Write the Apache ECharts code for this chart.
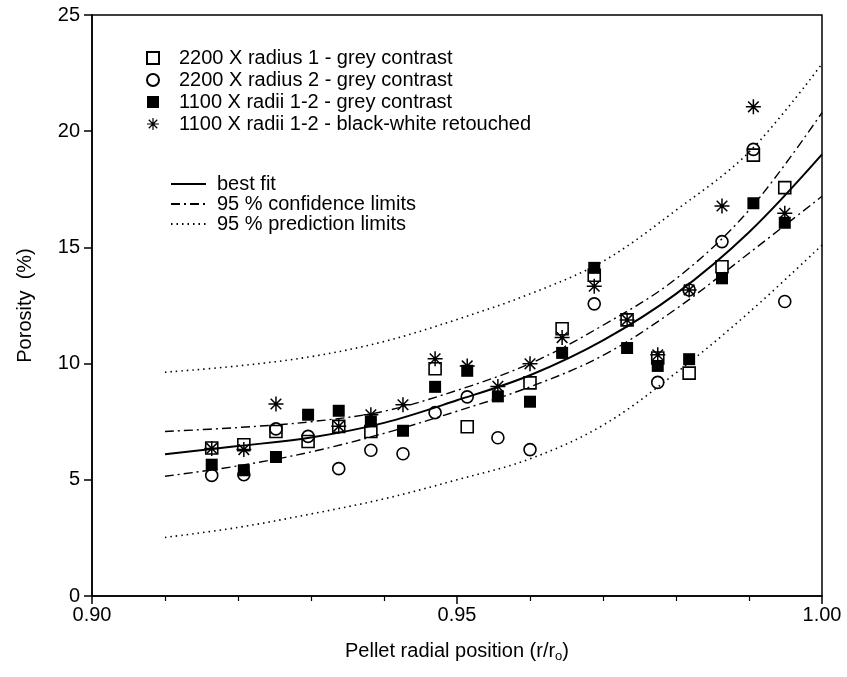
<!DOCTYPE html>
<html>
<head>
<meta charset="utf-8">
<script src="https://cdn.jsdelivr.net/npm/echarts@6/dist/echarts.min.js"></script>
<style>
html, body { margin: 0; padding: 0; background: #fff; }
#chart { width: 847px; height: 677px; }
</style>
</head>
<body>
<div id="chart"></div>
<script>
// radial positions of the measured columns (r/ro)
var rPos = [0.9164, 0.9208, 0.9252, 0.9296, 0.9338, 0.9382, 0.9426, 0.9470, 0.9514, 0.9556,
            0.9600, 0.9644, 0.9688, 0.9733, 0.9775, 0.9818, 0.9863, 0.9906, 0.9949];

// porosity (%) per column, null = no point
var sqRadius1 = [6.37, 6.51, 7.08, 6.65, 7.30, 7.08, null, 9.78, 7.28, null,
                 9.17, 11.50, 13.80, 11.88, 10.24, 9.59, 14.17, 18.97, 17.57];
var ciRadius2 = [5.19, 5.22, 7.19, 6.87, 5.48, 6.27, 6.12, 7.89, 8.57, 6.81,
                 6.30, null, 12.57, null, 9.19, 13.17, 15.25, 19.22, 12.67];
var fiRadii = [5.65, 5.41, 5.98, 7.80, 7.97, 7.51, 7.11, 9.00, 9.69, 8.59,
               8.36, 10.46, 14.12, 10.67, 9.90, 10.19, 13.67, 16.90, 16.06];
var stRadii = [6.35, 6.30, 8.26, null, 7.30, 7.80, 8.23, 10.21, 9.90, 9.02,
               9.99, 11.12, 13.33, 11.88, 10.38, 13.17, 16.78, 21.05, 16.47];

// fitted curves
var curveX = [0.91, 0.92, 0.93, 0.94, 0.95, 0.96, 0.97, 0.98, 0.99, 1.00];
var bestFit = [6.10, 6.45, 6.82, 7.45, 8.42, 9.50, 11.00, 13.00, 15.65, 19.00];
var confUp = [7.08, 7.25, 7.50, 7.95, 8.85, 10.00, 11.65, 13.65, 16.60, 20.80];
var confLo = [5.15, 5.60, 6.20, 7.00, 7.95, 9.00, 10.35, 12.35, 14.75, 17.20];
var predUp = [9.63, 9.90, 10.30, 10.95, 11.90, 13.00, 14.40, 16.60, 19.10, 22.90];
var predLo = [2.52, 2.95, 3.53, 4.18, 5.00, 5.90, 7.35, 9.60, 12.20, 15.10];

var xTicks = ['0.90', '0.95', '1.00'];

var FONT = 'Liberation Sans';
var asterisk = 'path://M9,0L11,0L11,20L9,20Z M0,9L20,9L20,11L0,11Z ' +
    'M3.64,2.22L17.78,16.36L16.36,17.78L2.22,3.64Z M16.36,2.22L17.78,3.64L3.64,17.78L2.22,16.36Z';

function pts(vals) {
    var out = [];
    for (var i = 0; i < rPos.length; i++) {
        if (vals[i] != null) out.push([rPos[i], vals[i]]);
    }
    return out;
}
function curve(vals) {
    return curveX.map(function (x, i) { return [x, vals[i]]; });
}

function lineSeries(name, vals, type, width) {
    return {
        name: name,
        type: 'line',
        data: curve(vals),
        smooth: 0.35,
        showSymbol: false,
        symbol: 'none',
        silent: true,
        itemStyle: { color: '#000' },
        lineStyle: { color: '#000', width: width, type: type }
    };
}

var chart = echarts.init(document.getElementById('chart'), null, {renderer: 'canvas'});

var option = {
    backgroundColor: '#fff',
    animation: false,
    textStyle: { fontFamily: FONT, color: '#000' },
    grid: {
        left: 92, right: 25, top: 15, bottom: 81,
        show: true, borderColor: '#000', borderWidth: 1.5
    },
    legend: [
        {
            orient: 'vertical',
            left: 141, top: 42,
            itemWidth: 12, itemHeight: 12,
            itemGap: 0,
            selectedMode: false,
            textStyle: { fontFamily: FONT, fontSize: 20, color: '#000', lineHeight: 22, padding: [0, 0, 0, 15] },
            data: ['2200 X radius 1 - grey contrast', '2200 X radius 2 - grey contrast',
                   '1100 X radii 1-2 - grey contrast', '1100 X radii 1-2 - black-white retouched']
        },
        {
            orient: 'vertical',
            left: 165, top: 169,
            itemWidth: 35, itemHeight: 12,
            itemGap: 0,
            selectedMode: false,
            itemStyle: { color: 'rgba(0,0,0,0)', borderWidth: 0 },
            textStyle: { fontFamily: FONT, fontSize: 20, color: '#000', lineHeight: 19.5, padding: [0, 0, 0, 6] },
            data: ['best fit', '95 % confidence limits', '95 % prediction limits']
        }
    ],
    xAxis: {
        type: 'value',
        min: 0.90, max: 1.00, interval: 0.05,
        name: '{n|Pellet radial position (r/r}{s|o}{n|)}',
        nameLocation: 'middle',
        nameGap: 44,
        nameTextStyle: {
            rich: {
                n: { fontFamily: FONT, fontSize: 20, color: '#000' },
                s: { fontFamily: FONT, fontSize: 13, color: '#000', padding: [10, 0, 0, 0] }
            }
        },
        axisLine: { lineStyle: { color: '#000', width: 1.5 } },
        axisTick: { length: 8, lineStyle: { color: '#000', width: 1.5 } },
        minorTick: { show: true, splitNumber: 5, length: 5, lineStyle: { color: '#000', width: 1.2 } },
        axisLabel: {
            margin: 9, fontSize: 20, fontFamily: FONT, color: '#000',
            formatter: function (v) { return xTicks[Math.round((v - 0.90) / 0.05)]; }
        },
        splitLine: { show: false }
    },
    yAxis: {
        type: 'value',
        min: 0, max: 25, interval: 5,
        name: 'Porosity  (%)',
        nameLocation: 'middle',
        nameRotate: 90,
        nameGap: 57,
        nameTextStyle: { fontFamily: FONT, fontSize: 20, color: '#000' },
        axisLine: { show: true, lineStyle: { color: '#000', width: 1.5 } },
        axisTick: { show: true, length: 8, lineStyle: { color: '#000', width: 1.5 } },
        axisLabel: { margin: 12, fontSize: 20, fontFamily: FONT, color: '#000' },
        splitLine: { show: false }
    },
    series: [
        lineSeries('best fit', bestFit, 'solid', 2),
        lineSeries('95 % confidence limits', confUp, [9, 4, 2, 4], 1.4),
        lineSeries('95 % confidence limits', confLo, [9, 4, 2, 4], 1.4),
        lineSeries('95 % prediction limits', predUp, [1.5, 4], 1.6),
        lineSeries('95 % prediction limits', predLo, [1.5, 4], 1.6),
        {
            name: '2200 X radius 1 - grey contrast',
            type: 'scatter',
            symbol: 'rect', symbolSize: 12,
            itemStyle: { color: 'rgba(255,255,255,0)', borderColor: '#000', borderWidth: 1.6, opacity: 1 },
            data: pts(sqRadius1)
        },
        {
            name: '2200 X radius 2 - grey contrast',
            type: 'scatter',
            symbol: 'circle', symbolSize: 12,
            itemStyle: { color: 'rgba(255,255,255,0)', borderColor: '#000', borderWidth: 1.6, opacity: 1 },
            data: pts(ciRadius2)
        },
        {
            name: '1100 X radii 1-2 - grey contrast',
            type: 'scatter',
            symbol: 'rect', symbolSize: 12,
            itemStyle: { color: '#000', opacity: 1 },
            data: pts(fiRadii)
        },
        {
            name: '1100 X radii 1-2 - black-white retouched',
            type: 'scatter',
            symbol: asterisk, symbolSize: 15,
            itemStyle: { color: '#000', opacity: 1 },
            data: pts(stRadii)
        }
    ]
};

chart.setOption(option);
</script>
</body>
</html>
